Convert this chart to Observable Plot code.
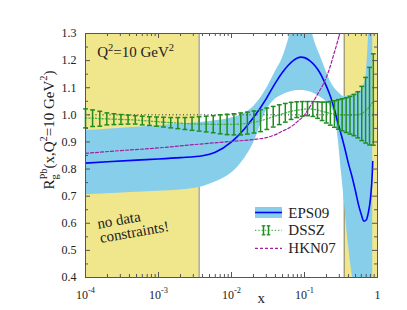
<!DOCTYPE html>
<html><head><meta charset="utf-8">
<script src="https://cdn.jsdelivr.net/npm/d3@7"></script>
<script src="https://cdn.jsdelivr.net/npm/@observablehq/plot@0.6"></script>
<style>
body{margin:0;background:#fff}
svg{display:block}
#chart svg, #chart svg text, #chart svg tspan { font-family: "Liberation Serif", "Times New Roman", serif !important; }
</style>
</head><body><div id="chart"></div>
<script>
// ---------- data ----------
const eps09X = [1e-4, 2e-4, 5e-4, 1e-3, 2e-3, 4e-3, 6e-3, 0.01, 0.015, 0.02, 0.03, 0.04, 0.05, 0.06, 0.07, 0.08, 0.09, 0.1, 0.12, 0.14, 0.16, 0.18, 0.2, 0.23, 0.26, 0.29, 0.32, 0.35, 0.4, 0.45, 0.5, 0.55, 0.6, 0.65, 0.7, 0.75, 0.8, 0.85, 0.86];
const eps09Central = [0.822, 0.827, 0.833, 0.837, 0.842, 0.849, 0.862, 0.900, 0.948, 0.990, 1.060, 1.118, 1.157, 1.183, 1.200, 1.210, 1.213, 1.211, 1.198, 1.180, 1.158, 1.132, 1.105, 1.063, 1.015, 0.965, 0.925, 0.885, 0.820, 0.770, 0.718, 0.668, 0.632, 0.608, 0.612, 0.640, 0.690, 0.790, 0.828];
const eps09High = [0.942, 0.947, 0.954, 0.960, 0.966, 0.973, 0.978, 0.988, 1.005, 1.030, 1.095, 1.160, 1.210, 1.275, 1.350, 1.400, 1.420, 1.420, 1.330, 1.265, 1.225, 1.190, 1.158, 1.120, 1.097, 1.083, 1.072, 1.066, 1.070, 1.075, 1.080, 1.085, 1.090, 1.110, 1.150, 1.280, 1.450, 1.600, 1.650];
const eps09Low = [0.705, 0.709, 0.714, 0.718, 0.723, 0.735, 0.752, 0.785, 0.838, 0.895, 1.015, 1.058, 1.073, 1.082, 1.087, 1.090, 1.090, 1.089, 1.084, 1.077, 1.068, 1.058, 1.048, 1.030, 0.995, 0.910, 0.790, 0.685, 0.520, 0.410, 0.330, 0.280, 0.250, 0.230, 0.220, 0.220, 0.220, 0.220, 0.220];

const dsszX = [1.00e-4, 1.25e-4, 1.57e-4, 1.96e-4, 2.45e-4, 3.06e-4, 3.83e-4, 4.80e-4, 6.00e-4, 7.51e-4, 9.39e-4, 1.17e-3, 1.47e-3, 1.84e-3, 2.30e-3, 2.88e-3, 3.60e-3, 4.50e-3, 5.62e-3, 7.00e-3, 8.70e-3, 0.0108, 0.0134, 0.0165, 0.0203, 0.0250, 0.0305, 0.0373, 0.0452, 0.0546, 0.0655, 0.0784, 0.0933, 0.110, 0.130, 0.151, 0.174, 0.199, 0.226, 0.257, 0.290, 0.328, 0.372, 0.420, 0.475, 0.537, 0.608, 0.687, 0.777, 0.876];
const dsszCentral = [0.988, 0.988, 0.986, 0.985, 0.984, 0.983, 0.982, 0.981, 0.979, 0.977, 0.975, 0.973, 0.971, 0.970, 0.968, 0.967, 0.966, 0.966, 0.965, 0.965, 0.965, 0.965, 0.966, 0.969, 0.973, 0.978, 0.985, 0.993, 1.000, 1.007, 1.013, 1.017, 1.020, 1.022, 1.021, 1.018, 1.013, 1.009, 1.005, 1.003, 1.001, 1.000, 0.999, 0.998, 0.999, 1.000, 1.005, 1.015, 1.030, 1.050];
const dsszHigh = [1.022, 1.018, 1.013, 1.007, 1.004, 1.001, 0.999, 0.997, 0.995, 0.993, 0.992, 0.991, 0.990, 0.990, 0.990, 0.991, 0.993, 0.995, 0.997, 1.000, 1.002, 1.004, 1.007, 1.010, 1.014, 1.019, 1.025, 1.031, 1.037, 1.042, 1.046, 1.048, 1.049, 1.049, 1.049, 1.048, 1.047, 1.047, 1.049, 1.052, 1.056, 1.059, 1.063, 1.068, 1.075, 1.085, 1.105, 1.138, 1.175, 1.225];
const dsszLow = [0.952, 0.957, 0.958, 0.963, 0.964, 0.965, 0.966, 0.966, 0.963, 0.961, 0.958, 0.955, 0.952, 0.949, 0.946, 0.943, 0.940, 0.937, 0.934, 0.930, 0.927, 0.926, 0.926, 0.929, 0.933, 0.938, 0.946, 0.955, 0.964, 0.973, 0.983, 0.990, 0.995, 0.997, 0.994, 0.987, 0.979, 0.970, 0.962, 0.954, 0.947, 0.941, 0.935, 0.929, 0.923, 0.915, 0.905, 0.896, 0.889, 0.888];

const hkn07X = [1e-4, 3e-4, 1e-3, 3e-3, 0.01, 0.02, 0.03, 0.04, 0.05, 0.06, 0.07, 0.08, 0.1, 0.12, 0.14, 0.16, 0.18, 0.2, 0.22, 0.25, 0.28, 0.3, 0.33];
const hkn07Values = [0.858, 0.868, 0.878, 0.890, 0.902, 0.909, 0.916, 0.927, 0.940, 0.950, 0.962, 0.975, 1.000, 1.032, 1.060, 1.088, 1.112, 1.140, 1.170, 1.220, 1.265, 1.295, 1.340];

const noDataRanges = [[1e-4, 0.0036], [0.35, 1]];
const seriesNames = ["EPS09", "DSSZ", "HKN07"];
const xMajorTicks = [1e-4, 1e-3, 1e-2, 1e-1, 1];
const xTickLabels = ["10^{-4}", "10^{-3}", "10^{-2}", "10^{-1}", "1"];
const xMinorTicks = [1e-4, 1e-3, 1e-2, 1e-1].flatMap(d => [2, 3, 4, 5, 6, 7, 8, 9].map(k => k * d));
const yMajorTicks = [0.4, 0.5, 0.6, 0.7, 0.8, 0.9, 1.0, 1.1, 1.2, 1.3];
const yMinorTicks = [0.45, 0.55, 0.65, 0.75, 0.85, 0.95, 1.05, 1.15, 1.25];
const yAxisLabel = "R_{g}^{Pb}(x,Q^{2}=10 GeV^{2})";
const xAxisLabel = "x";
const scaleNote = "Q^{2}=10 GeV^{2}";
const noDataNote = "no data\nconstraints!";

// ---------- tables ----------
const eps09 = eps09X.map((x, i) => ({x, c: eps09Central[i], lo: eps09Low[i], hi: eps09High[i]}));
const dssz = dsszX.map((x, i) => ({x, c: dsszCentral[i], lo: dsszLow[i], hi: dsszHigh[i]}));
const hkn = hkn07X.map((x, i) => ({x, y: hkn07Values[i]}));

// ---------- layout ----------
const W = 407, H = 310, ML = 85, MR = 30, MT = 33, MB = 33;
const FW = W - ML - MR, FH = H - MT - MB;
const serif = "Liberation Serif";
const axisColor = "#555";
const green = "#1e8c1e";
const capSymbol = {draw(ctx) { ctx.moveTo(-2.4, 0); ctx.lineTo(2.4, 0); }};

const plot = Plot.plot({
  width: W, height: H,
  marginLeft: ML, marginRight: MR, marginTop: MT, marginBottom: MB,
  style: {fontFamily: serif, fontSize: "12px", background: "#fff", color: "#222"},
  x: {type: "log", domain: [1e-4, 1], axis: null},
  y: {domain: [0.4, 1.3], axis: null},
  marks: [
    Plot.rect(noDataRanges, {x1: d => d[0], x2: d => d[1], fill: "#f0e68c"}),
    Plot.ruleX([noDataRanges[0][1], noDataRanges[1][0]], {stroke: "#85826a", strokeWidth: 1}),
    Plot.areaY(eps09, {x: "x", y1: "lo", y2: "hi", fill: "#87ceeb", curve: "monotone-x", clip: true}),
    Plot.ruleY([1], {stroke: "#222", strokeDasharray: "1,2.5", strokeWidth: 1}),
    Plot.line(eps09, {x: "x", y: "c", stroke: "#0000ff", strokeWidth: 1.6, curve: "monotone-x", clip: true}),
    Plot.line(dssz, {x: "x", y: "c", stroke: "#4caf50", strokeWidth: 1.3, strokeDasharray: "1.3,2", curve: "monotone-x"}),
    Plot.ruleX(dssz, {x: "x", y1: "lo", y2: "hi", stroke: green, strokeWidth: 1.5}),
    Plot.dot(dssz, {x: "x", y: "hi", symbol: capSymbol, stroke: green, fill: "none", strokeWidth: 1.5}),
    Plot.dot(dssz, {x: "x", y: "lo", symbol: capSymbol, stroke: green, fill: "none", strokeWidth: 1.5}),
    Plot.line(hkn, {x: "x", y: "y", stroke: "#a0209f", strokeWidth: 1.2, strokeDasharray: "3,2", curve: "monotone-x", clip: true}),
    Plot.frame({stroke: axisColor, strokeWidth: 1}),
    // ticks (inward, mirrored)
    Plot.tickX(xMajorTicks, {x: d => d, insetTop: FH - 5, stroke: axisColor}),
    Plot.tickX(xMajorTicks, {x: d => d, insetBottom: FH - 5, stroke: axisColor}),
    Plot.tickX(xMinorTicks, {x: d => d, insetTop: FH - 3, stroke: axisColor}),
    Plot.tickX(xMinorTicks, {x: d => d, insetBottom: FH - 3, stroke: axisColor}),
    Plot.tickY(yMajorTicks, {y: d => d, insetRight: FW - 5, stroke: axisColor}),
    Plot.tickY(yMajorTicks, {y: d => d, insetLeft: FW - 5, stroke: axisColor}),
    Plot.tickY(yMinorTicks, {y: d => d, insetRight: FW - 3, stroke: axisColor}),
    Plot.tickY(yMinorTicks, {y: d => d, insetLeft: FW - 3, stroke: axisColor}),
    // tick labels
    Plot.text(yMajorTicks, {y: d => d, text: d => d.toFixed(1), frameAnchor: "left", dx: -9, textAnchor: "end", lineAnchor: "middle", fontSize: 12, fill: "#222"}),
    Plot.text(xMajorTicks, {x: d => d, text: (d, i) => xTickLabels[i], frameAnchor: "bottom", dy: 21, lineAnchor: "bottom", fontSize: 12, fill: "#222"}),
    // axis labels and notes
    Plot.text([xAxisLabel], {text: d => d, frameAnchor: "bottom", dx: 29.7, dy: 25.5, lineAnchor: "bottom", fontSize: 15, fill: "#222"}),
    Plot.text([yAxisLabel], {text: d => d, frameAnchor: "left", dx: -32, dy: -25.5, rotate: -90, textAnchor: "middle", lineAnchor: "bottom", fontSize: 15, fill: "#222"}),
    Plot.text([scaleNote], {text: d => d, frameAnchor: "top-left", dx: 11.7, dy: 23.7, textAnchor: "start", lineAnchor: "bottom", fontSize: 15, fill: "#222"}),
    Plot.text([noDataNote], {text: d => d, frameAnchor: "bottom-left", dx: 15.2, dy: -34.5, rotate: -10, textAnchor: "start", lineAnchor: "bottom", lineHeight: 0.97, fontSize: 15, fill: "#222"})
  ]
});
document.getElementById("chart").append(plot);

// ---------- rich text (super/subscripts) ----------
function parseRich(s) {
  const segs = []; let buf = ""; let i = 0;
  while (i < s.length) {
    const c = s[i];
    if ((c === "^" || c === "_") && s[i + 1] === "{") {
      if (buf) { segs.push({t: buf, k: "n"}); buf = ""; }
      const j = s.indexOf("}", i);
      segs.push({t: s.slice(i + 2, j), k: c === "^" ? "sup" : "sub"});
      i = j + 1;
    } else { buf += c; i++; }
  }
  if (buf) segs.push({t: buf, k: "n"});
  return segs;
}
function applyRich(el, fs) {
  const segs = parseRich(el.textContent);
  el.textContent = "";
  let cur = 0, prev = null;
  for (const s of segs) {
    const ts = document.createElementNS("http://www.w3.org/2000/svg", "tspan");
    ts.textContent = s.t;
    const target = s.k === "sup" ? -0.42 * fs : s.k === "sub" ? 0.3 * fs : 0;
    if (s.k !== "n") ts.setAttribute("font-size", (0.7 * fs).toFixed(1));
    if (target - cur) ts.setAttribute("dy", (target - cur).toFixed(2));
    el.appendChild(ts);
    if (s.k === "sup" && prev && prev.k === "sub") ts.setAttribute("dx", (-prev.el.getComputedTextLength()).toFixed(2));
    cur = target; prev = {k: s.k, el: ts};
  }
}
const svg = d3.select(plot);
svg.selectAll("text").each(function() {
  if (this.childElementCount === 0 && /[\^_]\{/.test(this.textContent)) {
    const fs = parseFloat(getComputedStyle(this).fontSize) || 12;
    applyRich(this, fs);
  }
});

// ---------- legend ----------
const lg = svg.append("g").attr("font-size", 15).attr("fill", "#222").attr("text-anchor", "start");
const sx0 = 255, sx1 = 282, tx = 288.3, rows = [212.5, 230.3, 248.3];
lg.append("rect").attr("x", sx0).attr("y", rows[0] - 5.5).attr("width", sx1 - sx0).attr("height", 11).attr("fill", "#87ceeb");
lg.append("line").attr("x1", sx0).attr("x2", sx1).attr("y1", rows[0]).attr("y2", rows[0]).attr("stroke", "#0000ff").attr("stroke-width", 1.6);
lg.append("line").attr("x1", sx0).attr("x2", sx1).attr("y1", rows[1]).attr("y2", rows[1]).attr("stroke", "#4caf50").attr("stroke-width", 1.2).attr("stroke-dasharray", "1.3,2");
for (const bx of [263.5, 268.5]) {
  lg.append("line").attr("x1", bx).attr("x2", bx).attr("y1", rows[1] - 4.5).attr("y2", rows[1] + 4.5).attr("stroke", green).attr("stroke-width", 1.5);
  for (const cy of [rows[1] - 4.5, rows[1] + 4.5]) lg.append("line").attr("x1", bx - 1.8).attr("x2", bx + 1.8).attr("y1", cy).attr("y2", cy).attr("stroke", green).attr("stroke-width", 1.3);
}
lg.append("line").attr("x1", sx0).attr("x2", sx1).attr("y1", rows[2]).attr("y2", rows[2]).attr("stroke", "#a0209f").attr("stroke-width", 1.2).attr("stroke-dasharray", "3,2");
seriesNames.forEach((name, i) => {
  lg.append("text").attr("x", tx).attr("y", rows[i] + 5).attr("text-anchor", "start").text(name);
});
</script>
</body></html>
